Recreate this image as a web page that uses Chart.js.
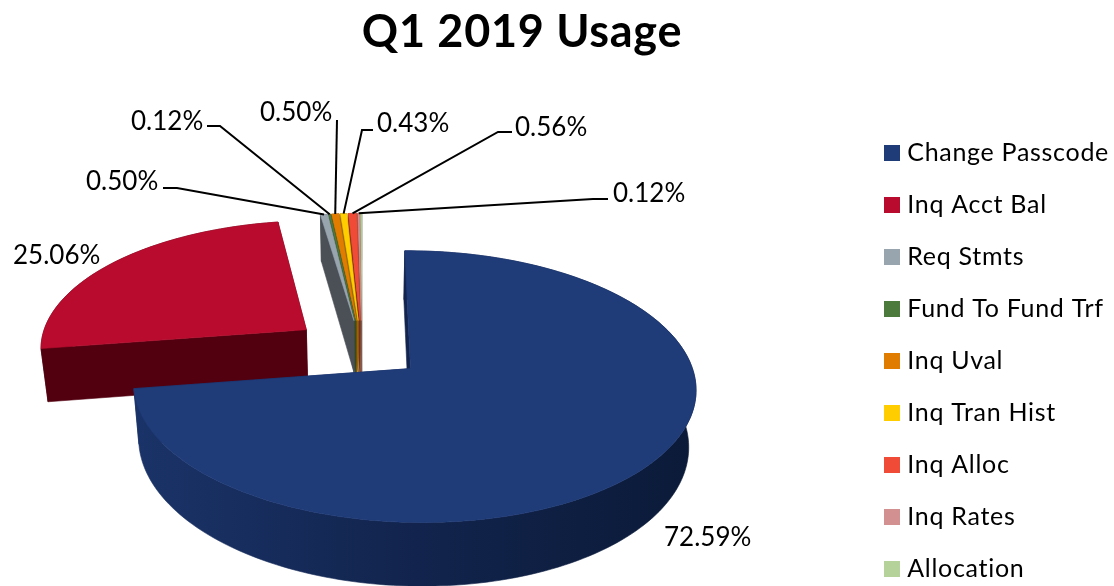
<!DOCTYPE html>
<html>
<head>
<meta charset="utf-8">
<title>Q1 2019 Usage</title>
<script src="https://cdn.jsdelivr.net/npm/chart.js@4"></script>
<style>
  html, body { margin: 0; padding: 0; background: #fff; }
  canvas { display: block; }
</style>
</head>
<body>
<canvas id="usageChart" width="1114" height="586"></canvas>
<script>
    const categories = ['Change Passcode', 'Inq Acct Bal', 'Req Stmts', 'Fund To Fund Trf', 'Inq Uval', 'Inq Tran Hist', 'Inq Alloc', 'Inq Rates', 'Allocation'];
    const usagePercent = [72.59, 25.06, 0.50, 0.12, 0.50, 0.43, 0.56, 0.12, 0.12];

    const topColors = ['#1f3b78', '#b90b2e', '#98a4ae', '#4c7a3c', '#e07c00', '#ffcd00', '#ef4b36', '#d39090', '#b5d29b'];
    const sideColors = ['#14264f', '#520010', '#4b5057', '#2d4a24', '#7a4a08', '#8a6c05', '#7f2a1c', '#7c5a50', '#8b8f78'];
    const explodeBy = [0.23, 0.26, 0.23, 0.23, 0.23, 0.23, 0.23, 0.23, 0.23];

    const FONT = 'Lato, "Open Sans", sans-serif';

    // where each value label sits (left, middle), and the elbow of its leader line
    const labelSpots = [[664, 538], [13, 256], [86, 182], [131, 122], [260, 113], [377, 124], [515, 128], [613, 194], null];
    const leaderStarts = [null, null, [163, 188], [207, 126], [337, 120], [373, 130], [512, 132], [608, 199], null];
    const leaderBends = [null, null, [177, 188], [220, 126], null, [362, 130], [498, 132], [593, 199], null];

    // pie plane projected with a simple perspective, y runs towards the viewer
    const VIEW = { x0: 362, y0: 349, ax: 272, ay: 128, depth: 54, kx: 0.012, ky: 0.13, taper: 0.022 };

    function project(x, y, down) {
        const w = 1 - VIEW.ky * y - VIEW.kx * x;
        return [VIEW.x0 + VIEW.ax * x / w * (1 - VIEW.taper * down), VIEW.y0 + (VIEW.ay * y + VIEW.depth * down) / w];
    }

    function wedgeGeometry(arc, idx) {
        const { startAngle, endAngle } = arc.getProps(['startAngle', 'endAngle']);
        const mid = (startAngle + endAngle) / 2;
        const ox = Math.cos(mid) * explodeBy[idx];
        const oy = Math.sin(mid) * explodeBy[idx];
        const rim = [];
        const steps = Math.max(2, Math.ceil((endAngle - startAngle) * 40));
        for (let i = 0; i <= steps; i++) {
            const a = startAngle + (endAngle - startAngle) * i / steps;
            rim.push([ox + Math.cos(a), oy + Math.sin(a)]);
        }
        return { ox, oy, rim, mid };
    }

    function fillPoly(ctx, pts, color) {
        ctx.beginPath();
        pts.forEach((p, i) => i ? ctx.lineTo(p[0], p[1]) : ctx.moveTo(p[0], p[1]));
        ctx.closePath();
        ctx.fillStyle = color;
        ctx.fill();
        ctx.strokeStyle = color;
        ctx.lineWidth = 0.6;
        ctx.stroke();
    }

    function wallStyle(ctx, idx) {
        if (idx !== 0) return sideColors[idx];
        const grad = ctx.createLinearGradient(135, 0, 695, 0);
        grad.addColorStop(0, '#1a3368');
        grad.addColorStop(0.5, '#12244d');
        grad.addColorStop(1, '#0b1a38');
        return grad;
    }

    // legend squares are 16px but sit closer to their text than boxWidth allows
    function swatch(color) {
        const c = document.createElement('canvas');
        c.width = 16;
        c.height = 16;
        const g = c.getContext('2d');
        g.fillStyle = color;
        g.fillRect(0, 0, 16, 16);
        return c;
    }

    const tiltedPie = {
        id: 'tiltedPie',
        beforeLayout(chart) {
            chart.ctx.letterSpacing = '0.7px';
        },
        afterLayout(chart) {
            // title sits over the plot, legend hugs the right edge
            chart.titleBlock.left -= 35;
            chart.titleBlock.right -= 35;
            chart.legend.top += 68;
            chart.legend.bottom += 68;
            chart.legend.left += 5;
            chart.legend.right += 5;
        },
        beforeDatasetsDraw(chart) {
            const ctx = chart.ctx;
            const arcs = chart.getDatasetMeta(0).data;
            const order = arcs.map((arc, idx) => ({ idx, geo: wedgeGeometry(arc, idx) }))
                .sort((a, b) => a.geo.oy - b.geo.oy);
            order.forEach(({ idx, geo }) => {
                const first = geo.rim[0];
                const last = geo.rim[geo.rim.length - 1];
                const apex = [geo.ox, geo.oy];
                const wall = wallStyle(ctx, idx);
                const side = (p, q) => fillPoly(ctx, [project(p[0], p[1], 0), project(q[0], q[1], 0), project(q[0], q[1], 1), project(p[0], p[1], 1)], wall);
                side(apex, first);
                side(apex, last);
                fillPoly(ctx, geo.rim.map(p => project(p[0], p[1], 0)).concat(geo.rim.slice().reverse().map(p => project(p[0], p[1], 1))), wall);
                fillPoly(ctx, [project(apex[0], apex[1], 0)].concat(geo.rim.map(p => project(p[0], p[1], 0))), topColors[idx]);
            });
            return false;
        },
        afterDraw(chart) {
            const ctx = chart.ctx;
            const arcs = chart.getDatasetMeta(0).data;
            ctx.save();
            ctx.letterSpacing = '0px';
            ctx.font = '26px ' + FONT;
            ctx.textBaseline = 'middle';
            ctx.textAlign = 'left';
            ctx.fillStyle = '#000';
            ctx.strokeStyle = '#000';
            ctx.lineWidth = 2;
            usagePercent.forEach((value, i) => {
                if (!labelSpots[i]) return;
                ctx.fillText(value.toFixed(2) + '%', labelSpots[i][0], labelSpots[i][1]);
                if (!leaderStarts[i]) return;
                const geo = wedgeGeometry(arcs[i], i);
                const end = project(geo.ox + Math.cos(geo.mid), geo.oy + Math.sin(geo.mid), 0);
                ctx.beginPath();
                ctx.moveTo(leaderStarts[i][0], leaderStarts[i][1]);
                if (leaderBends[i]) ctx.lineTo(leaderBends[i][0], leaderBends[i][1]);
                ctx.lineTo(end[0], end[1]);
                ctx.stroke();
            });
            ctx.restore();
        }
    };

    new Chart(document.getElementById('usageChart').getContext('2d'), {
        type: 'pie',
        data: {
            labels: categories,
            datasets: [{
                data: usagePercent,
                backgroundColor: topColors,
                borderWidth: 0
            }]
        },
        options: {
            responsive: false,
            animation: false,
            plugins: {
                title: {
                    display: true,
                    text: 'Q1 2019 Usage',
                    color: '#000',
                    font: { family: FONT, size: 45, weight: 'bold' },
                    padding: { top: 5, bottom: 2 }
                },
                legend: {
                    position: 'right',
                    labels: {
                        color: '#000',
                        font: { family: FONT, size: 25 },
                        usePointStyle: true,
                        pointStyleWidth: 5,
                        boxHeight: 16,
                        padding: 27,
                        generateLabels(chart) {
                            const items = Chart.overrides.doughnut.plugins.legend.labels.generateLabels(chart);
                            items.forEach((item, i) => { item.pointStyle = swatch(topColors[i]); });
                            return items;
                        }
                    }
                },
                tooltip: { enabled: false }
            }
        },
        plugins: [tiltedPie]
    });
</script>
</body>
</html>
